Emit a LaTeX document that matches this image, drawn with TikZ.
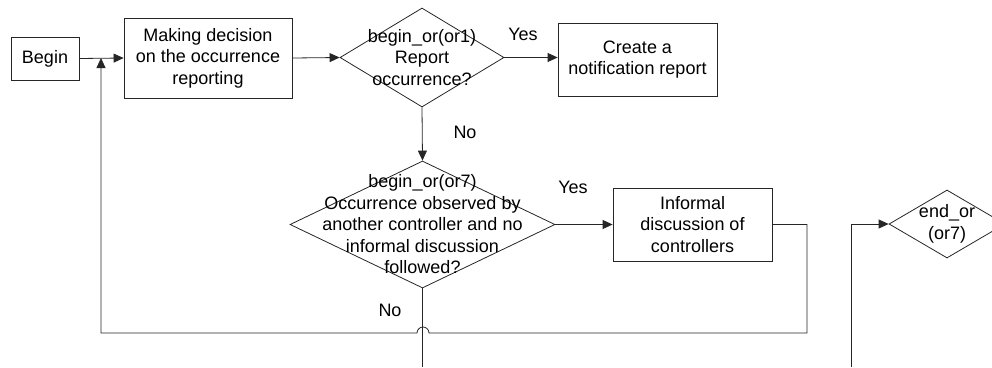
\documentclass[tikz,border=0pt]{standalone}
\usepackage{fontspec}
\setmainfont{Liberation Sans}
\usetikzlibrary{shapes.geometric,arrows.meta}

\begin{document}
\begin{tikzpicture}[x=1pt,y=-1pt,
  every node/.style={font=\fontsize{18}{21.5}\selectfont, text=black},
  stepbox/.style={draw=black!85, line width=0.8pt, rectangle, inner sep=0pt, align=center},
  choice/.style={draw=black!85, line width=0.8pt, diamond, inner sep=0pt},
  choicetext/.style={align=center, inner sep=0pt},
  flow/.style={draw=black!85, line width=0.8pt},
  flowarrow/.style={flow, -{Triangle[length=10pt,width=9pt]}},
  tag/.style={inner sep=0pt}]

\useasboundingbox (0,0) rectangle (992,367);
\clip (0,0) rectangle (992,367);

% process boxes
\node[stepbox, minimum width=68pt, minimum height=43pt] (begin) at (45,58.5) {Begin};
\node[stepbox, minimum width=168pt, minimum height=80pt] (decide) at (208,58) {Making decision\\on the occurrence\\reporting};
\node[stepbox, minimum width=159pt, minimum height=73pt] (create) at (637.5,59.5) {Create a\\notification report};
\node[stepbox, minimum width=159pt, minimum height=73pt] (informal) at (692.5,224.5) {Informal\\discussion of\\controllers};

% decision diamonds and their texts
\node[choice, minimum width=164pt, minimum height=99pt] (or1) at (422,57.5) {};
\node[choicetext] (or1txt) at (or1) {begin\_or(or1)\\Report\\occurrence?};
\node[choice, minimum width=265pt, minimum height=127pt] (or7) at (422.5,224.5) {};
\node[choicetext] (or7txt) at (or7) {begin\_or(or7)\\Occurrence observed by\\another controller and no\\informal discussion\\followed?};
\node[choice, minimum width=116pt, minimum height=68pt] (endor) at (947,224) {};
\node[choicetext] (endortxt) at (endor) {end\_or\\(or7)};

% branch labels
\node[tag] (yes1) at (523,34) {Yes};
\node[tag] (no1) at (465,132) {No};
\node[tag] (yes7) at (573,187) {Yes};
\node[tag] (no7) at (390,310) {No};

% routing points
\coordinate (join) at (101,58);
\coordinate (loopA) at (807,224.5);
\coordinate (loopB) at (807,333);
\coordinate (hopR) at (429,333);
\coordinate (loopC) at (101,333);
\coordinate (down7) at (422.5,367);
\coordinate (upL) at (851,367);
\coordinate (upC) at (851,224);

% connectors
\draw[flowarrow] (begin.east) -- (decide.west);
\draw[flowarrow] (decide.east) -- (or1.west);
\draw[flowarrow] (or1.east) -- (or1.east -| create.west);
\draw[flowarrow] (or1.south) -- (or7.north);
\draw[flowarrow] (or7.east) -- (informal.west);
\draw[flowarrow] (informal.east) -- (loopA) -- (loopB) -- (hopR) arc[start angle=0, end angle=180, radius=6pt] -- (loopC) -- (join);
\draw[flow] (or7.south) -- (down7);
\draw[flowarrow] (upL) -- (upC) -- (endor.west);

\end{tikzpicture}
\end{document}
